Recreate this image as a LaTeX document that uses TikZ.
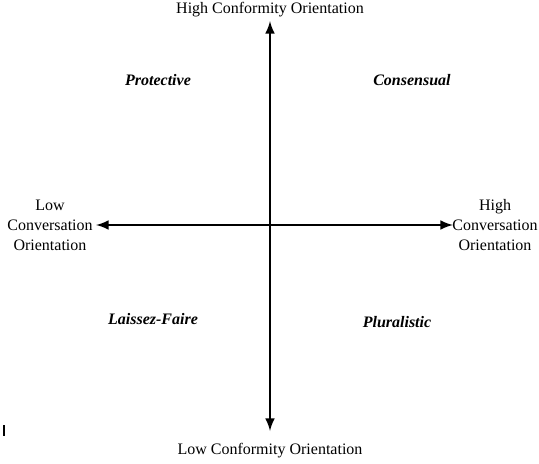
\documentclass[tikz,border=0pt]{standalone}
\usepackage{fontspec}
\setmainfont{Liberation Serif}
\usetikzlibrary{positioning,arrows}

\tikzset{
  axislabel/.style={align=center,font=\fontsize{12}{15}\selectfont,inner sep=0pt},
  quadlabel/.style={font=\fontsize{12}{15}\selectfont\bfseries\itshape,inner sep=0pt},
  axis/.style={line width=2.2pt,-latex}
}

\begin{document}
\begin{tikzpicture}[x=0.75pt,y=-0.75pt,>=latex]
		\useasboundingbox (0,0) rectangle (539,464);

		% the crossing point and the axis ends
		\coordinate (origin) at (270,225);
		\coordinate (top) at (270,21);
		\coordinate (bottom) at (270,431);
		\coordinate (left) at (96,225);
		\coordinate (right) at (453,225);

		% the two axes
		\draw[axis] (origin) -- (top);
		\draw[axis] (origin) -- (bottom);
		\draw[axis] (origin) -- (left);
		\draw[axis] (origin) -- (right);

		% the axis labels
		\node[axislabel] (highconf) at (270,10) {High Conformity Orientation};
		\node[axislabel] (lowconf) at (270,451) {Low Conformity Orientation};
		\node[axislabel] (lowconv) at (50,225) {Low\\Conversation\\Orientation};
		\node[axislabel] (highconv) at (495,225) {High\\Conversation\\Orientation};

		% the four family types
		\node[quadlabel] (protective) at (158,80) {Protective};
		\node[quadlabel] (consensual) at (412,80) {Consensual};
		\node[quadlabel] (laissez) at (153,319) {Laissez-Faire};
		\node[quadlabel] (pluralistic) at (397,322) {Pluralistic};

		% stray mark
		\draw[line width=1pt] (4,425) -- (4,436);

	\end{tikzpicture}
\end{document}
